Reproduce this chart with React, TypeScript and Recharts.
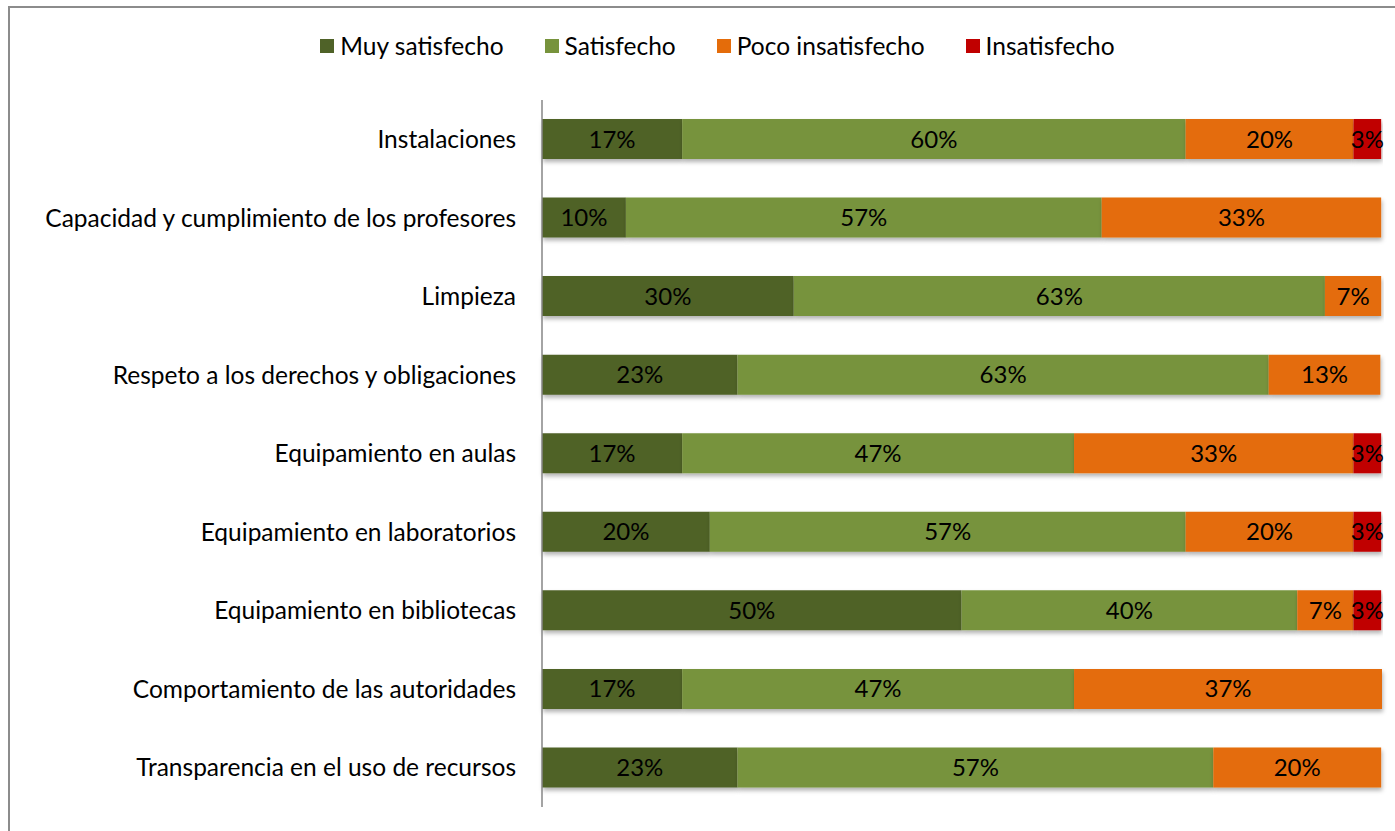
import { BarChart, Bar, XAxis, YAxis, Legend, LabelList } from 'recharts';

const categories = [
  'Instalaciones',
  'Capacidad y cumplimiento de los profesores',
  'Limpieza',
  'Respeto a los derechos y obligaciones',
  'Equipamiento en aulas',
  'Equipamiento en laboratorios',
  'Equipamiento en bibliotecas',
  'Comportamiento de las autoridades',
  'Transparencia en el uso de recursos',
];

const muySatisfecho = [16.7, 10, 30, 23.3, 16.7, 20, 50, 16.7, 23.3];
const satisfecho = [60, 56.7, 63.3, 63.3, 46.7, 56.7, 40, 46.7, 56.7];
const pocoInsatisfecho = [20, 33.3, 6.7, 13.3, 33.3, 20, 6.7, 36.7, 20];
const insatisfecho = [3.3, 0, 0, 0, 3.3, 3.3, 3.3, 0, 0];

const series = [
  { key: 'muy', name: 'Muy satisfecho', color: '#4F6228' },
  { key: 'sat', name: 'Satisfecho', color: '#77933C' },
  { key: 'poco', name: 'Poco insatisfecho', color: '#E46C0A' },
  { key: 'insat', name: 'Insatisfecho', color: '#C00000' },
];

const data = categories.map((name, i) => ({
  name,
  muy: muySatisfecho[i],
  sat: satisfecho[i],
  poco: pocoInsatisfecho[i],
  insat: insatisfecho[i],
}));

const FONT = 'Lato, "Open Sans", sans-serif';

const fmt = (v: any) => (v ? `${Math.round(Number(v))}%` : '');

function LegendContent() {
  return (
    <div
      style={{
        display: 'flex',
        justifyContent: 'center',
        gap: 41,
        height: 30,
        lineHeight: '30px',
        fontFamily: FONT,
        fontSize: 24.5,
        color: '#000',
        paddingLeft: 30,
      }}
    >
      {series.map((s) => (
        <div key={s.key} style={{ display: 'flex', alignItems: 'center' }}>
          <span
            style={{
              display: 'inline-block',
              width: 14,
              height: 14,
              background: s.color,
              marginRight: 6,
            }}
          />
          <span>{s.name}</span>
        </div>
      ))}
    </div>
  );
}

export default function App() {
  // fixed so the oversized frame does not make the page scroll
  return (
    <div
      style={{
        position: 'fixed',
        top: 6,
        left: 8,
        width: 1400,
        height: 840,
        border: '2px solid #8c8c8c',
        background: '#fff',
      }}
    >
      <BarChart
        width={1385}
        height={823}
        data={data}
        layout="vertical"
        margin={{ top: 62, right: 13, bottom: 24, left: 0 }}
        barSize={40}
      >
        <defs>
          <filter id="shadow" x="-5%" y="-20%" width="110%" height="160%">
            <feDropShadow dx="1" dy="3" stdDeviation="2" floodColor="#000" floodOpacity="0.3" />
          </filter>
        </defs>
        <XAxis type="number" domain={[0, 100]} hide />
        <YAxis
          type="category"
          dataKey="name"
          width={532}
          axisLine={{ stroke: '#868686', strokeWidth: 1.5 }}
          tickLine={false}
          tickSize={0}
          tickMargin={26}
          tick={{ fill: '#000', fontSize: 24.5, fontFamily: FONT }}
          interval={0}
        />
        <Legend
          verticalAlign="top"
          content={<LegendContent />}
          wrapperStyle={{ top: 23, left: 0, width: 1385 }}
        />
        {series.map((s) => (
          <Bar
            key={s.key}
            dataKey={s.key}
            name={s.name}
            stackId="a"
            fill={s.color}
            filter="url(#shadow)"
            isAnimationActive={false}
          >
            <LabelList
              dataKey={s.key}
              position="center"
              formatter={fmt}
              fill="#000"
              style={{ fontSize: 24, fontFamily: FONT }}
            />
          </Bar>
        ))}
      </BarChart>
    </div>
  );
}
